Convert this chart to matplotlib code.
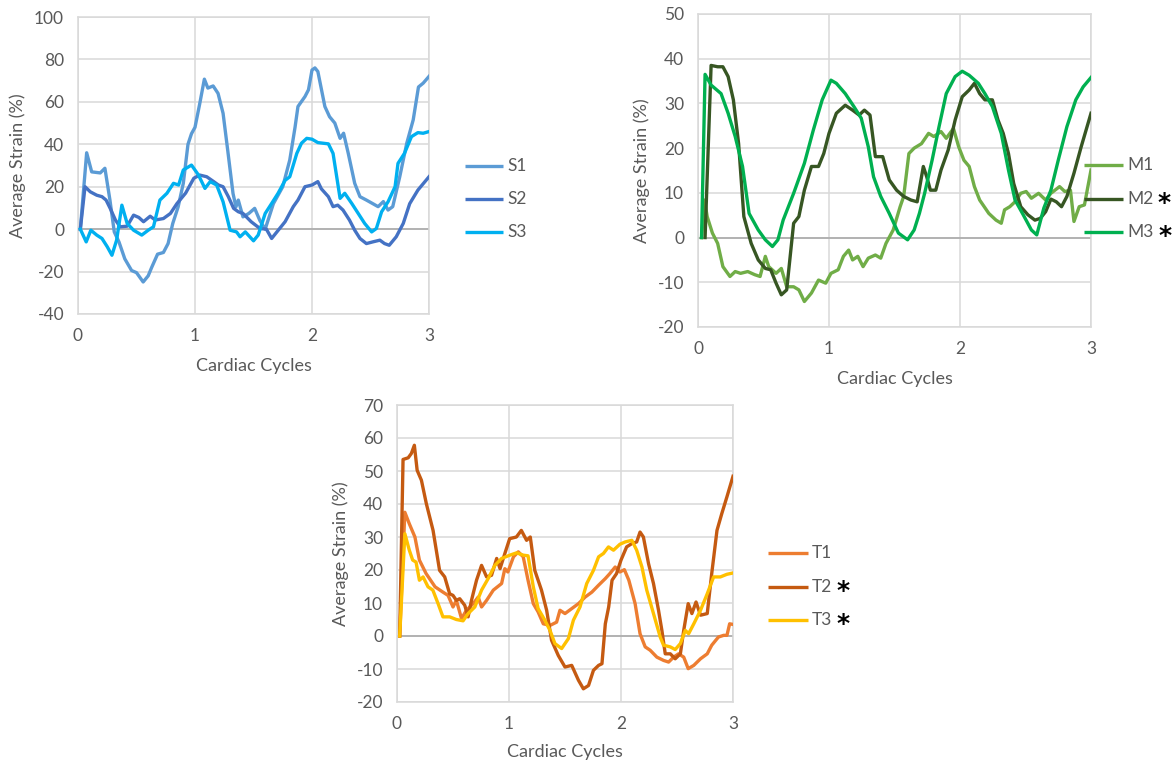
import matplotlib
matplotlib.use("Agg")
import matplotlib.pyplot as plt

plt.rcParams['font.family'] = ['Lato', 'DejaVu Sans']
plt.rcParams['axes.unicode_minus'] = False

# ---- septal segments ----
s1_x = [0.02, 0.074, 0.117, 0.19, 0.23, 0.273, 0.31, 0.35, 0.40, 0.458, 0.50, 0.557, 0.60, 0.63,
        0.68, 0.73, 0.77, 0.81, 0.856, 0.90, 0.94, 0.97, 1.0, 1.04, 1.08, 1.11, 1.155, 1.197, 1.24,
        1.28, 1.325, 1.35, 1.37, 1.41, 1.46, 1.51, 1.555, 1.6, 1.67, 1.75, 1.81, 1.855, 1.88, 1.94,
        1.97, 2.0, 2.025, 2.05, 2.11, 2.15, 2.195, 2.24, 2.27, 2.31, 2.365, 2.41, 2.465, 2.52, 2.565,
        2.61, 2.65, 2.69, 2.75, 2.81, 2.865, 2.91, 2.95, 3.0]
s1_y = [0, 36, 27, 26.5, 28.7, 13.7, -1.3, -6, -14, -19.5, -20.5, -24.9, -22, -18,
        -11.8, -11, -6.8, 2.7, 10.5, 21.6, 40, 45, 48, 59, 70.7, 66.5, 67.5, 64, 54.6,
        37, 16.8, 10.5, 13.7, 5.8, 7.4, 9.8, 4, 0, 12, 20, 32.6, 48, 57.8, 62.5,
        65.7, 75, 76, 74.3, 57.8, 53, 50, 42.8, 45.2, 35.7, 21.6, 15.3, 13.7, 12, 10.6,
        13, 9, 10.6, 24.7, 40.5, 51.5, 67, 68.8, 72]

s2_x = [0.02, 0.06, 0.105, 0.16, 0.205, 0.24, 0.275, 0.32, 0.36, 0.42, 0.475, 0.52, 0.56, 0.617,
        0.66, 0.73, 0.79, 0.845, 0.92, 0.99, 1.04, 1.10, 1.16, 1.2, 1.24, 1.285, 1.33, 1.37, 1.41,
        1.48, 1.555, 1.61, 1.655, 1.70, 1.77, 1.84, 1.88, 1.94, 2.0, 2.05, 2.08, 2.14, 2.18, 2.22,
        2.265, 2.32, 2.365, 2.41, 2.465, 2.52, 2.58, 2.62, 2.66, 2.72, 2.78, 2.835, 2.905, 3.0]
s2_y = [0, 20, 17.6, 16, 15.3, 13.7, 9.8, 4.3, 1.1, 1.4, 6.6, 5.5, 3.5, 6.1,
        4.3, 5, 7.4, 12, 17, 24, 25.5, 24.7, 22.4, 20.8, 20, 15.3, 9.8, 8.2, 7.4,
        3.5, 0.3, 0, -4.4, -1.3, 3.5, 10.6, 13.7, 20, 20.8, 22.4, 19, 15.3, 10.6, 11.3,
        9, 4.3, -0.5, -4.4, -6.8, -6, -5.2, -6.8, -7.6, -3.6, 2.7, 12, 18.4, 24.7]

s3_x = [0.02, 0.07, 0.11, 0.16, 0.205, 0.25, 0.29, 0.33, 0.375, 0.42, 0.475, 0.545, 0.60, 0.645,
        0.70, 0.76, 0.816, 0.86, 0.90, 0.97, 1.03, 1.085, 1.13, 1.185, 1.24, 1.30, 1.355, 1.385,
        1.43, 1.50, 1.54, 1.60, 1.655, 1.71, 1.77, 1.81, 1.87, 1.91, 1.955, 2.0, 2.05, 2.14, 2.18,
        2.24, 2.28, 2.34, 2.395, 2.45, 2.51, 2.55, 2.595, 2.65, 2.71, 2.735, 2.79, 2.85, 2.905,
        2.95, 3.0]
s3_y = [0, -6, -0.5, -2.8, -4.4, -8.3, -12.3, -5.2, 11.3, 2.7, -0.5, -2.8, -0.5, 1.1,
        13.7, 16.9, 21.6, 20.8, 27.9, 30.2, 25.5, 19.2, 22.4, 20.8, 12.9, -0.5, -1.3, -3.6,
        -1.3, -5.5, -2.8, 7.4, 12.1, 16.9, 23, 24.7, 35.7, 40.5, 42.8, 42.4, 40.8, 40.2, 35.7,
        14.5, 16.9, 12.1, 7.4, 2.7, -1.3, 0.3, 8.2, 12.9, 20, 31, 35.7, 43.6, 45.5,
        45.2, 46]

# ---- mid segments ----
m1_x = [0.027, 0.05, 0.07, 0.11, 0.15, 0.19, 0.244, 0.284, 0.325, 0.38, 0.433, 0.474, 0.514, 0.54,
        0.596, 0.636, 0.677, 0.73, 0.77, 0.812, 0.866, 0.92, 0.975, 1.015, 1.07, 1.11, 1.15, 1.18,
        1.22, 1.26, 1.30, 1.354, 1.395, 1.435, 1.49, 1.543, 1.57, 1.61, 1.65, 1.706, 1.76, 1.80,
        1.855, 1.895, 1.95, 1.99, 2.03, 2.07, 2.11, 2.15, 2.22, 2.275, 2.315, 2.34, 2.38, 2.42,
        2.464, 2.505, 2.545, 2.6, 2.654, 2.694, 2.76, 2.80, 2.843, 2.87, 2.91, 2.95, 3.0]
m1_y = [0, 8.4, 4.7, 1, -1.3, -6.5, -8.7, -7.6, -8, -7.6, -8.3, -8.7, -4.2, -6.5,
        -8, -6.9, -11, -11, -11.7, -14.3, -12.4, -9.5, -10.2, -8, -7.2, -4.2, -2.8, -5,
        -4.2, -6.5, -4.6, -3.9, -4.6, -1.3, 1.7, 6.9, 9.2, 18.8, 20, 21, 23.3, 22.6,
        23.7, 22.2, 24.4, 20.3, 17.3, 15.9, 11.4, 8.4, 5.4, 3.9, 3.2, 6.2, 6.9, 8,
        9.9, 10.3, 8.8, 9.9, 8.4, 9.9, 11.4, 10.3, 10.6, 3.6, 6.9, 7.3, 15.1]

m2_x = [0.054, 0.10, 0.15, 0.19, 0.23, 0.27, 0.31, 0.35, 0.406, 0.46, 0.514, 0.555, 0.596, 0.636,
        0.677, 0.73, 0.77, 0.812, 0.866, 0.92, 0.96, 1.0, 1.056, 1.124, 1.18, 1.23, 1.27, 1.313,
        1.354, 1.41, 1.46, 1.516, 1.57, 1.625, 1.673, 1.72, 1.746, 1.774, 1.815, 1.855, 1.91,
        1.963, 2.017, 2.07, 2.11, 2.15, 2.19, 2.247, 2.29, 2.33, 2.37, 2.41, 2.464, 2.518, 2.572,
        2.613, 2.654, 2.694, 2.735, 2.775, 2.816, 2.87, 2.925, 3.0]
m2_y = [0, 38.5, 38.2, 38.2, 36, 30.8, 21, 4.7, -1.3, -5, -6.9, -7.2, -10.2, -12.8,
        -11.7, 3.2, 4.7, 10.6, 15.9, 15.9, 18.8, 23.3, 27.8, 29.6, 28.5, 27.4, 28.5, 27.4,
        18.1, 18.1, 12.9, 10.6, 9.2, 8.4, 8, 15.9, 13.6, 10.6, 10.6, 15.1, 19.6,
        26.3, 31.5, 33, 34.5, 32.2, 30.8, 30.8, 26.3, 23.3, 18.8, 12.1, 6.9, 5.1, 3.9,
        4.3, 5.8, 8.6, 8, 6.9, 9.2, 14.4, 20.3, 27.8]

m3_x = [0.027, 0.054, 0.10, 0.176, 0.23, 0.284, 0.34, 0.39, 0.46, 0.514, 0.568, 0.61, 0.65, 0.73,
        0.812, 0.88, 0.948, 1.015, 1.056, 1.124, 1.19, 1.246, 1.30, 1.34, 1.395, 1.46, 1.53, 1.6,
        1.65, 1.69, 1.73, 1.787, 1.84, 1.895, 1.963, 2.017, 2.07, 2.14, 2.19, 2.247, 2.315, 2.37,
        2.42, 2.477, 2.545, 2.586, 2.64, 2.694, 2.75, 2.816, 2.884, 2.94, 3.0]
m3_y = [0, 36.5, 34.1, 32.2, 27.8, 22.6, 15.9, 5.4, 1.7, -0.5, -2, -0.5, 3.9, 9.9,
        16.6, 24, 30.8, 35.2, 34.5, 32.2, 29.3, 26.7, 20.3, 13.6, 9.2, 5.4, 1, -0.5,
        1.7, 5.4, 9.9, 17.3, 24.8, 32.2, 36, 37.2, 36.3, 34.5, 32.2, 29.3, 23.3, 15.1,
        8.4, 5.4, 1.7, 0.6, 6.6, 10.6, 17.3, 24.8, 30.8, 33.7, 35.8]

# ---- tip segments ----
t1_x = [0.024, 0.07, 0.11, 0.16, 0.20, 0.26, 0.34, 0.41, 0.456, 0.50, 0.53, 0.576, 0.62, 0.68,
        0.725, 0.755, 0.80, 0.86, 0.934, 0.963, 0.99, 1.04, 1.083, 1.127, 1.17, 1.217, 1.26, 1.306,
        1.366, 1.425, 1.455, 1.5, 1.56, 1.62, 1.68, 1.74, 1.80, 1.86, 1.90, 1.948, 1.99, 2.03,
        2.07, 2.126, 2.17, 2.216, 2.26, 2.32, 2.38, 2.425, 2.47, 2.514, 2.56, 2.60, 2.65, 2.71,
        2.77, 2.81, 2.87, 2.917, 2.946, 2.97, 3.0]
t1_y = [0, 37.5, 34, 30, 23, 18.9, 14.9, 13.3, 12.3, 8.8, 10.8, 5.3, 7.8, 9.8,
        11.8, 8.8, 10.8, 13.9, 15.9, 20.4, 19.4, 24, 25.5, 24, 16.9, 9.8, 7.3, 3.7,
        3.2, 4.2, 7.8, 6.8, 8.3, 9.8, 11.8, 13.3, 15.4, 17.4, 18.9, 20.9, 19.4, 20.1,
        16.9, 9.8, 0.7, -3.3, -4.3, -6.4, -7.4, -7.9, -6.4, -5.4, -6.4, -9.9, -8.9, -6.9,
        -5.4, -2.8, -0.3, 0.2, 0.2, 3.7, 3.5]

t2_x = [0.024, 0.054, 0.10, 0.128, 0.155, 0.18, 0.218, 0.262, 0.322, 0.38, 0.426, 0.47, 0.50, 0.53,
        0.56, 0.605, 0.635, 0.665, 0.71, 0.755, 0.80, 0.844, 0.89, 0.92, 0.963, 1.006, 1.066, 1.11,
        1.157, 1.19, 1.23, 1.29, 1.336, 1.38, 1.44, 1.50, 1.56, 1.62, 1.664, 1.71, 1.754, 1.80,
        1.83, 1.86, 1.89, 1.92, 1.96, 2.0, 2.05, 2.097, 2.14, 2.17, 2.2, 2.246, 2.29, 2.335,
        2.365, 2.395, 2.44, 2.484, 2.53, 2.56, 2.60, 2.633, 2.67, 2.71, 2.77, 2.81, 2.857, 2.90,
        2.946, 3.0]
t2_y = [0, 53.5, 54, 55.3, 57.8, 50.2, 47.2, 40.1, 32, 19.9, 17.9, 12.8, 12.3, 10.8,
        11.3, 9.3, 5.8, 10.8, 16.9, 21.4, 17.9, 18.4, 23.5, 20.4, 25, 29.5, 30, 32,
        29, 30, 19.9, 13.9, 7.8, -1.3, -5.9, -9.4, -8.9, -13.4, -16, -15, -10.4, -8.9,
        -8.4, 3.7, 8.8, 16.9, 18.9, 23, 27, 28, 28.5, 31.5, 30, 21.9, 15.9, 7.8,
        1.7, -5.4, -5.4, -6.9, -5.4, 1.7, 9.8, 6.8, 10.3, 6.3, 6.8, 18.9, 32, 37.1,
        42.2, 48.4]

t3_x = [0.024, 0.07, 0.11, 0.14, 0.17, 0.20, 0.233, 0.277, 0.32, 0.367, 0.41, 0.47, 0.53, 0.59,
        0.635, 0.695, 0.755, 0.814, 0.874, 0.934, 1.008, 1.068, 1.127, 1.17, 1.217, 1.26, 1.32,
        1.366, 1.41, 1.47, 1.53, 1.575, 1.634, 1.694, 1.754, 1.80, 1.843, 1.888, 1.933, 1.99,
        2.037, 2.097, 2.14, 2.187, 2.23, 2.29, 2.35, 2.38, 2.44, 2.484, 2.53, 2.574, 2.604, 2.65,
        2.71, 2.77, 2.827, 2.887, 2.946, 3.0]
t3_y = [0, 31, 26, 23, 22.4, 16.9, 17.9, 14.9, 13.9, 9.8, 5.8, 5.8, 5, 4.6,
        6.8, 8.8, 13.9, 17.4, 21.4, 23.5, 24.5, 25.2, 24.5, 24.3, 14.9, 8.3, 4.8,
        1.7, -2.3, -3.8, -0.8, 4.8, 8.8, 15.9, 19.9, 24, 25, 27, 26, 27.8,
        28.5, 29, 26, 20.9, 13.9, 6.8, -0.3, -2.8, -3.3, -4.1, -2.3, 1.7, 0.7, 3.7,
        7.8, 12.8, 17.9, 17.9, 18.7, 19.1]

x_ticks = [0, 1, 2, 3]
s_yticks = [-40, -20, 0, 20, 40, 60, 80, 100]
m_yticks = [-20, -10, 0, 10, 20, 30, 40, 50]
t_yticks = [-20, -10, 0, 10, 20, 30, 40, 50, 60, 70]

GRID = '#d9d9d9'
TXT = '#595959'


def draw_panel(ax, series, yticks, ylab_x, xlab_y, key_x, key_y):
    for name, xs, ys, color, star in series:
        ax.plot(xs, ys, color=color, lw=2.4, solid_joinstyle='round', zorder=3)
    ax.set_xlim(0, 3)
    ax.set_ylim(yticks[0], yticks[-1])
    ax.set_xticks(x_ticks)
    ax.set_yticks(yticks)
    ax.grid(True, color=GRID, lw=1.1)
    ax.axhline(0, color='#a6a6a6', lw=1.1, zorder=2)
    for sp in ax.spines.values():
        sp.set_color(GRID)
        sp.set_linewidth(1.1)
    ax.tick_params(length=0, labelsize=12.5, colors=TXT, pad=10)
    ax.set_xlabel('Cardiac Cycles', fontsize=13, color=TXT)
    ax.set_ylabel('Average Strain (%)', fontsize=13, color=TXT)
    ax.yaxis.set_label_coords(ylab_x, 0.5)
    ax.xaxis.set_label_coords(0.5, xlab_y)

    # hand-made legend like the Excel one
    x0, x1 = key_x
    for i, (name, xs, ys, color, star) in enumerate(series):
        yy = key_y[i]
        ax.plot([x0, x1], [yy, yy], color=color, lw=2.4, transform=ax.transAxes,
                clip_on=False, zorder=4, solid_capstyle='butt')
        t = ax.text(x1 + 0.012, yy, name, transform=ax.transAxes, fontsize=12.5,
                    color=TXT, va='center', ha='left')
        if star:
            ax.annotate('*', xy=(1, 0.5), xycoords=t, xytext=(3, -3),
                        textcoords='offset points', fontsize=18, fontweight='bold',
                        family='DejaVu Sans', color='black', va='center', ha='left')


fig = plt.figure(figsize=(11.75, 7.67), dpi=100)

ax_s = fig.add_axes([78 / 1175, 1 - 314 / 767, 351 / 1175, 297 / 767])
draw_panel(ax_s,
           [('S1', s1_x, s1_y, '#5b9bd5', False),
            ('S2', s2_x, s2_y, '#4472c4', False),
            ('S3', s3_x, s3_y, '#00b0f0', False)],
           s_yticks, -0.148, -0.148, (1.103, 1.211), [0.498, 0.387, 0.276])

ax_m = fig.add_axes([698 / 1175, 1 - 327 / 767, 393 / 1175, 313 / 767])
draw_panel(ax_m,
           [('M1', m1_x, m1_y, '#70ad47', False),
            ('M2', m2_x, m2_y, '#375623', True),
            ('M3', m3_x, m3_y, '#00b050', True)],
           m_yticks, -0.122, -0.141, (0.982, 1.081), [0.518, 0.409, 0.303])

ax_t = fig.add_axes([397 / 1175, 1 - 702 / 767, 336 / 1175, 297 / 767])
draw_panel(ax_t,
           [('T1', t1_x, t1_y, '#ed7d31', False),
            ('T2', t2_x, t2_y, '#c55a11', True),
            ('T3', t3_x, t3_y, '#ffc000', True)],
           t_yticks, -0.143, -0.141, (1.104, 1.223), [0.502, 0.387, 0.276])

fig.savefig('out.png', dpi=100)
